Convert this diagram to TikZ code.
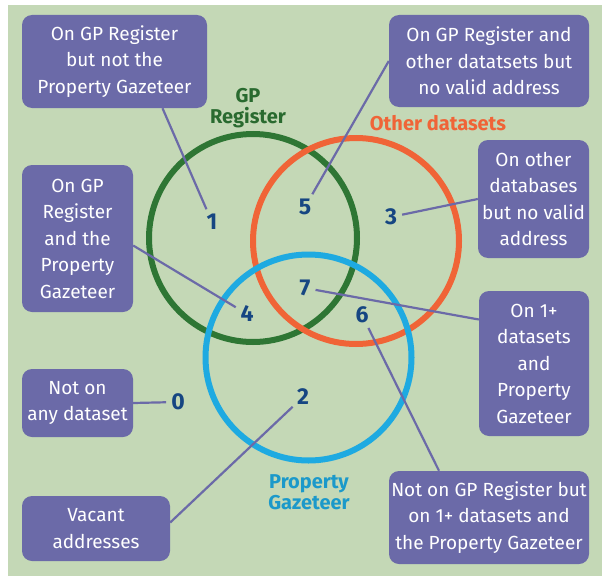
\documentclass[tikz,border=0pt]{standalone}
\usepackage{fontspec}
\setmainfont{Fira Sans}
\definecolor{bgsage}{RGB}{196,216,182}
\definecolor{boxblue}{RGB}{107,106,168}
\definecolor{gpgreen}{RGB}{46,118,52}
\definecolor{othorange}{RGB}{240,100,55}
\definecolor{propblue}{RGB}{30,170,225}
\definecolor{numblue}{RGB}{22,70,130}
\begin{document}
\begin{tikzpicture}[x=1pt,y=-1pt] % координаты в пикселях
\tikzstyle{infobox} = [rounded corners=10pt, fill=boxblue, text=white, align=center, inner sep=0pt, font=\fontsize{19}{26.5}\selectfont] % подписи в рамках
\tikzstyle{num} = [text=numblue, font=\bfseries\fontsize{23}{23}\selectfont, inner sep=2pt] % номера областей
\tikzstyle{ring} = [line width=6pt] % окружности
\tikzstyle{link} = [draw=boxblue, line width=2.2pt, shorten >=3pt] % выноски
\tikzstyle{setlab} = [align=center, font=\bfseries\fontsize{20}{21}\selectfont] % названия множеств

\useasboundingbox (0,0) rectangle (602,578);
\fill[bgsage] (8,5) rectangle (602,576); % фон

\draw[ring, gpgreen] (253,238) circle[radius=104pt];
\draw[ring, othorange] (356,241) circle[radius=103pt];
\draw[ring, propblue] (308.5,357.5) circle[radius=103pt];

\node[setlab, text=gpgreen!90!black] (gplab) at (248,108) {GP\\Register};
\node[setlab, text=othorange] (othlab) at (438,123) {Other datasets};
\node[setlab, text=propblue!90!black] (proplab) at (309,492) {Property\\Gazeteer};

\node[num] (n1) at (212,222) {1};
\node[num] (n5) at (305,207) {5};
\node[num] (n3) at (391,217) {3};
\node[num] (n7) at (305,288) {7};
\node[num] (n4) at (247,314) {4};
\node[num] (n6) at (362,315) {6};
\node[num] (n2) at (303,397) {2};
\node[num] (n0) at (178,402) {0};

\node[infobox, minimum width=185pt, minimum height=93pt] (b1) at (114.5,61.5) {On GP Register\\but not the\\Property Gazeteer};
\node[infobox, minimum width=200pt, minimum height=92pt] (b2) at (489,61) {On GP Register and\\other datatsets but\\no valid address};
\node[infobox, minimum width=111pt, minimum height=118pt] (b3) at (533.5,199) {On other\\databases\\but no valid\\address};
\node[infobox, minimum width=111pt, minimum height=147pt] (b4) at (77.5,238.5) {On GP\\Register\\and the\\Property\\Gazeteer};
\node[infobox, minimum width=111pt, minimum height=68pt] (b5) at (77.5,403) {Not on\\any dataset};
\node[infobox, minimum width=148pt, minimum height=65pt] (b6) at (96,528.5) {Vacant\\addresses};
\node[infobox, minimum width=110pt, minimum height=145pt] (b7) at (534,363.5) {On 1+\\datasets\\and\\Property\\Gazeteer};
\node[infobox, minimum width=200pt, minimum height=93pt] (b8) at (489,517.5) {Not on GP Register but\\on 1+ datasets and\\the Property Gazeteer};

\draw[link] ([xshift=48pt]b1.south) -- (n1);
\draw[link] (b2.west) -- (n5);
\draw[link] (b3.west) -- (n3);
\draw[link] ([yshift=-7pt]b4.east) -- (n4);
\draw[link] (b5.east) -- (n0);
\draw[link] ([yshift=6pt]b6.east) -- (n2);
\draw[link] ([yshift=44pt]b7.west) -- (n7);
\draw[link] ([xshift=-50pt]b8.north) -- (n6);
\end{tikzpicture}
\end{document}
